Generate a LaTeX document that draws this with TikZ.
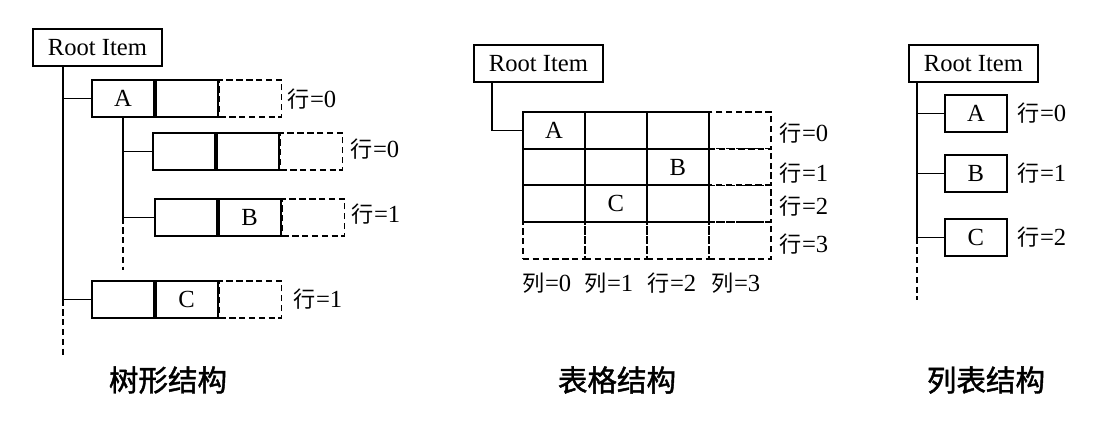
\documentclass[tikz,border=0pt]{standalone}
\usepackage{fontspec}
\setmainfont{Liberation Serif}
\newfontfamily\cjk[Scale=0.9]{Noto Sans CJK SC}
\newfontfamily\cjktitle[FakeBold=1.5]{Noto Sans CJK SC}
\usetikzlibrary{calc}

\tikzset{
  cell/.style={draw, minimum width=1.55cm, minimum height=0.925cm, inner sep=0pt, anchor=north west},
  cellx/.style={cell, dash pattern=on 4.5pt off 2.5pt},
  rootbox/.style={cell, minimum width=3.225cm},
  lbl/.style={anchor=west, inner sep=0pt},
  title/.style={font=\cjktitle\fontsize{21}{24}\selectfont}
}

\begin{document}
\begin{tikzpicture}[x=0.025cm, y=-0.025cm, line width=1.25pt, font=\fontsize{17.5}{20}\selectfont]
    \useasboundingbox (0,0) rectangle (1105,422);
    % tree
    \node[rootbox] (t-root) at (32,28) {Root Item};
    \coordinate (t-top) at ($(t-root.south west)+(31,0)$);
    \coordinate (t-end) at (63,355);
    \node[cell] (a1) at (91,79) {A};
    \node[cell] (a2) at (a1.north east) {};
    \node[cellx] (a3) at (a2.north east) {};
    \node[cell] (p1) at (152,132) {};
    \node[cell] (p2) at (p1.north east) {};
    \node[cellx] (p3) at (p2.north east) {};
    \node[cell] (q1) at (154,198) {};
    \node[cell] (q2) at (q1.north east) {B};
    \node[cellx] (q3) at (q2.north east) {};
    \node[cell] (c1) at (91,280) {};
    \node[cell] (c2) at (c1.north east) {C};
    \node[cellx] (c3) at (c2.north east) {};
    \coordinate (a-end) at ($(a1.south)+(0,152)$);
    \draw (t-top) -- (t-top |- c1.west) -- (c1.west);
    \draw (t-top |- a1.west) -- (a1.west);
    \draw[dash pattern=on 4.5pt off 2.5pt] (t-top |- c1.west) -- (t-end);
    \draw (a1.south) -- (a1.south |- q1.west) -- (q1.west);
    \draw (a1.south |- p1.west) -- (p1.west);
    \draw[dash pattern=on 4.5pt off 2.5pt] (a1.south |- q1.west) -- (a-end);
    \node[lbl] (la) at (287,99) {{\cjk 行}=0};
    \node[lbl] (lp) at (350,149) {{\cjk 行}=0};
    \node[lbl] (lq) at (351,214) {{\cjk 行}=1};
    \node[lbl] (lc) at (293,299) {{\cjk 行}=1};
    \node[title] (t-title) at (168,380) {树形结构};
    % table
    \node[rootbox] (m-root) at (473,44) {Root Item};
    \foreach \r in {0,1,2}
      \foreach \c in {0,1,2}
        \node[cell] (g-\r-\c) at (522+62*\c,111+36.7*\r) {};
    \foreach \c in {0,1,2,3}
      \node[cellx] (g-3-\c) at (522+62*\c,221) {};
    \foreach \r in {0,1,2}
      \node[cellx] (g-\r-3) at (708,111+36.7*\r) {};
    \node (m-a) at (g-0-0) {A};
    \node (m-b) at (g-1-2) {B};
    \node (m-c) at (g-2-1) {C};
    \draw ($(m-root.south west)+(19,0)$) |- (g-0-0.west);
    \node[lbl] (r0) at (779,133) {{\cjk 行}=0};
    \node[lbl] (r1) at (779,173) {{\cjk 行}=1};
    \node[lbl] (r2) at (779,206) {{\cjk 行}=2};
    \node[lbl] (r3) at (779,244) {{\cjk 行}=3};
    \node[lbl] (k0) at (522,283) {{\cjk 列}=0};
    \node[lbl] (k1) at (584,283) {{\cjk 列}=1};
    \node[lbl] (k2) at (647,283) {{\cjk 行}=2};
    \node[lbl] (k3) at (711,283) {{\cjk 列}=3};
    \node[title] (m-title) at (617,380) {表格结构};
    % list
    \node[rootbox] (l-root) at (908,44) {Root Item};
    \coordinate (l-top) at ($(l-root.south west)+(9,0)$);
    \coordinate (l-end) at (917,300);
    \node[cell] (la1) at (944,94) {A};
    \node[cell] (lb1) at (944,154) {B};
    \node[cell] (lc1) at (944,218) {C};
    \draw (l-top) -- (l-top |- lc1.west) -- (lc1.west);
    \draw (l-top |- la1.west) -- (la1.west);
    \draw (l-top |- lb1.west) -- (lb1.west);
    \draw[dash pattern=on 4.5pt off 2.5pt] (l-top |- lc1.west) -- (l-end);
    \node[lbl] (s0) at (1017,113) {{\cjk 行}=0};
    \node[lbl] (s1) at (1017,173) {{\cjk 行}=1};
    \node[lbl] (s2) at (1017,237) {{\cjk 行}=2};
    \node[title] (l-title) at (986,380) {列表结构};
\end{tikzpicture}
\end{document}
